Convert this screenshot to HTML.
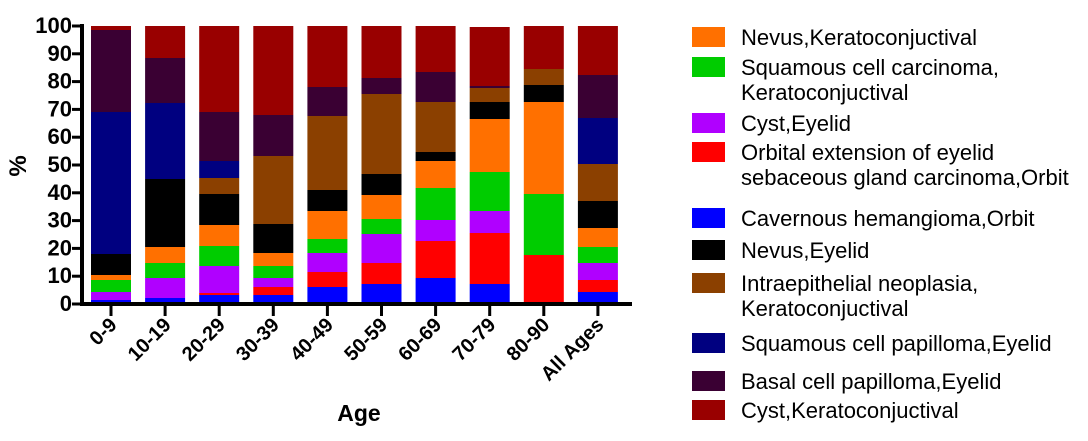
<!DOCTYPE html>
<html><head><meta charset="utf-8"><style>
body{margin:0;background:#fff;}
svg text{font-family:"Liberation Sans",Arial,sans-serif;}
</style></head><body>
<svg width="1088" height="436" viewBox="0 0 1088 436" xmlns="http://www.w3.org/2000/svg">
<g id="bars"></g>
<g stroke="#000" stroke-width="4" fill="none">
<line x1="82" y1="24" x2="82" y2="306"/>
<line x1="80" y1="304" x2="632" y2="304"/>
</g>
<g stroke="#000" stroke-width="3" id="ticks"></g>
<g font-weight="bold" font-size="22" text-anchor="end" id="ylab"></g>
<g font-weight="bold" font-size="20" text-anchor="end" id="xlab"></g>
<text x="359" y="421" font-size="23" font-weight="bold" text-anchor="middle">Age</text>
<text transform="translate(26,166) rotate(-90)" font-size="24" font-weight="bold" text-anchor="middle">%</text>
<g id="legend" font-size="22"></g>
</svg>
<script>
var C={b:'#0000ff',r:'#ff0000',p:'#b000ff',g:'#00cc00',o:'#ff7000',k:'#000000',br:'#8b4000',n:'#000080',bs:'#3a0033',cr:'#990000'};
var data=[
[['b',300],['p',292],['g',280],['o',275],['k',254],['n',112],['bs',30],['cr',26]],
[['b',298],['p',278],['g',263],['o',247],['k',179],['n',103],['bs',58],['cr',26]],
[['b',295],['r',293],['p',266],['g',246],['o',225],['k',194],['br',178],['n',161],['bs',112],['cr',26]],
[['b',295],['r',287],['p',278],['g',266],['o',253],['k',224],['br',156],['bs',115],['cr',26]],
[['b',287],['r',272],['p',253],['g',239],['o',211],['k',190],['br',116],['bs',87],['cr',26]],
[['b',284],['r',263],['p',234],['g',219],['o',195],['k',174],['br',94],['bs',78],['cr',26]],
[['b',278],['r',241],['p',220],['g',188],['o',161],['k',152],['br',102],['bs',72],['cr',26]],
[['b',284],['r',233],['p',211],['g',172],['o',119],['k',102],['br',88],['bs',86],['cr',27]],
[['r',255],['g',194],['o',102],['k',85],['br',69],['cr',26]],
[['b',292],['r',280],['p',263],['g',247],['o',228],['k',201],['br',164],['n',118],['bs',75],['cr',26]]];
var labels=['0-9','10-19','20-29','30-39','40-49','50-59','60-69','70-79','80-90','All Ages'];
var ns='http://www.w3.org/2000/svg';
function el(t,a,p,txt){var e=document.createElementNS(ns,t);for(var k in a)e.setAttribute(k,a[k]);if(txt)e.textContent=txt;document.getElementById(p).appendChild(e);return e;}
data.forEach(function(bar,i){var x=91+i*54.1;var bot=303;
bar.forEach(function(s){el('rect',{x:x,y:s[1],width:40,height:bot-s[1],fill:C[s[0]]},'bars');bot=s[1];});
var cx=x+20;el('line',{x1:cx,y1:304,x2:cx,y2:316},'ticks');
el('text',{transform:'translate('+(cx+7)+',326) rotate(-45)'},'xlab',labels[i]);});
for(var v=0;v<=100;v+=10){var y=304-v*2.78;el('line',{x1:72,y1:y,x2:82,y2:y},'ticks');el('text',{x:72,y:y+7},'ylab',String(v));}
var L=[['o',37,['Nevus,Keratoconjuctival']],['g',67,['Squamous cell carcinoma,','Keratoconjuctival']],['p',123,['Cyst,Eyelid']],['r',152,['Orbital extension of eyelid','sebaceous gland carcinoma,Orbit']],['b',218,['Cavernous hemangioma,Orbit']],['k',250,['Nevus,Eyelid']],['br',283,['Intraepithelial neoplasia,','Keratoconjuctival']],['n',343,['Squamous cell papilloma,Eyelid']],['bs',381,['Basal cell papilloma,Eyelid']],['cr',410,['Cyst,Keratoconjuctival']]];
L.forEach(function(l){el('rect',{x:692,y:l[1]-10,width:33,height:20,fill:C[l[0]]},'legend');
l[2].forEach(function(t,j){el('text',{x:741,y:l[1]+8+j*25},'legend',t);});});
</script>
</body></html>
